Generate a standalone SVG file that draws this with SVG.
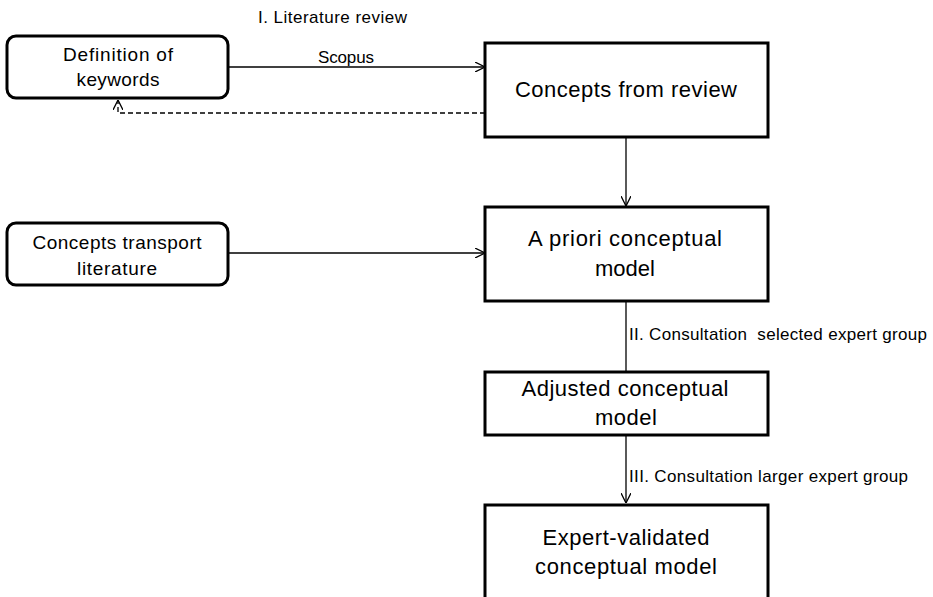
<svg xmlns="http://www.w3.org/2000/svg" width="933" height="597" viewBox="0 0 933 597">
<style>
.box{fill:#fff;stroke:#000;stroke-width:3}
.conn{fill:none;stroke:#000;stroke-width:1.3}
.dash{stroke-dasharray:5 3}
text{font-family:"Liberation Sans",Arial,sans-serif;fill:#000}
.big{font-size:22px;text-anchor:middle}
.mid{font-size:19px;text-anchor:middle}
.lbl{font-size:17px}
</style>
<defs>
<marker id="arr" viewBox="0 0 10 10" refX="10" refY="5" markerWidth="10" markerHeight="10" markerUnits="userSpaceOnUse" orient="auto">
<path d="M0,0 L10,5 L0,10" fill="none" stroke="#000" stroke-width="1.3"/>
</marker>
</defs>
<rect width="933" height="597" fill="#fff"/>
<g id="connectors">
<line class="conn" x1="228" y1="67" x2="485" y2="67" marker-end="url(#arr)"/>
<polyline class="conn dash" points="485,113 118,113 118,100" marker-end="url(#arr)"/>
<line class="conn" x1="626" y1="138" x2="626" y2="206" marker-end="url(#arr)"/>
<line class="conn" x1="228" y1="253" x2="485" y2="253" marker-end="url(#arr)"/>
<line class="conn" x1="626" y1="302" x2="626" y2="371"/>
<line class="conn" x1="626" y1="436" x2="626" y2="503" marker-end="url(#arr)"/>
<text class="lbl" x="258" y="23" textLength="149">I. Literature review</text>
<text class="lbl" x="318" y="63" textLength="56">Scopus</text>
<text class="lbl" x="629" y="340" textLength="298" xml:space="preserve">II. Consultation  selected expert group</text>
<text class="lbl" x="629" y="482" textLength="279">III. Consultation larger expert group</text>
</g>
<g id="node-keywords">
<rect class="box" x="7" y="36" width="221" height="62" rx="9"/>
<text class="mid" x="118" y="61" textLength="110">Definition of</text>
<text class="mid" x="118" y="86" textLength="83">keywords</text>
</g>
<g id="node-review">
<rect class="box" x="485" y="43" width="283" height="94"/>
<text class="big" x="626" y="97" textLength="222">Concepts from review</text>
</g>
<g id="node-transport">
<rect class="box" x="7" y="223" width="221" height="62" rx="9"/>
<text class="mid" x="117" y="249" textLength="169">Concepts transport</text>
<text class="mid" x="117" y="275" textLength="80">literature</text>
</g>
<g id="node-apriori">
<rect class="box" x="485" y="207" width="283" height="94"/>
<text class="big" x="625" y="246" textLength="194">A priori conceptual</text>
<text class="big" x="625" y="276" textLength="60">model</text>
</g>
<g id="node-adjusted">
<rect class="box" x="485" y="372" width="283" height="63"/>
<text class="big" x="625" y="396" textLength="207">Adjusted conceptual</text>
<text class="big" x="626" y="425" textLength="62">model</text>
</g>
<g id="node-validated">
<rect class="box" x="485" y="505" width="283" height="100"/>
<text class="big" x="626" y="545" textLength="167">Expert-validated</text>
<text class="big" x="626" y="574" textLength="182">conceptual model</text>
</g>
</svg>
